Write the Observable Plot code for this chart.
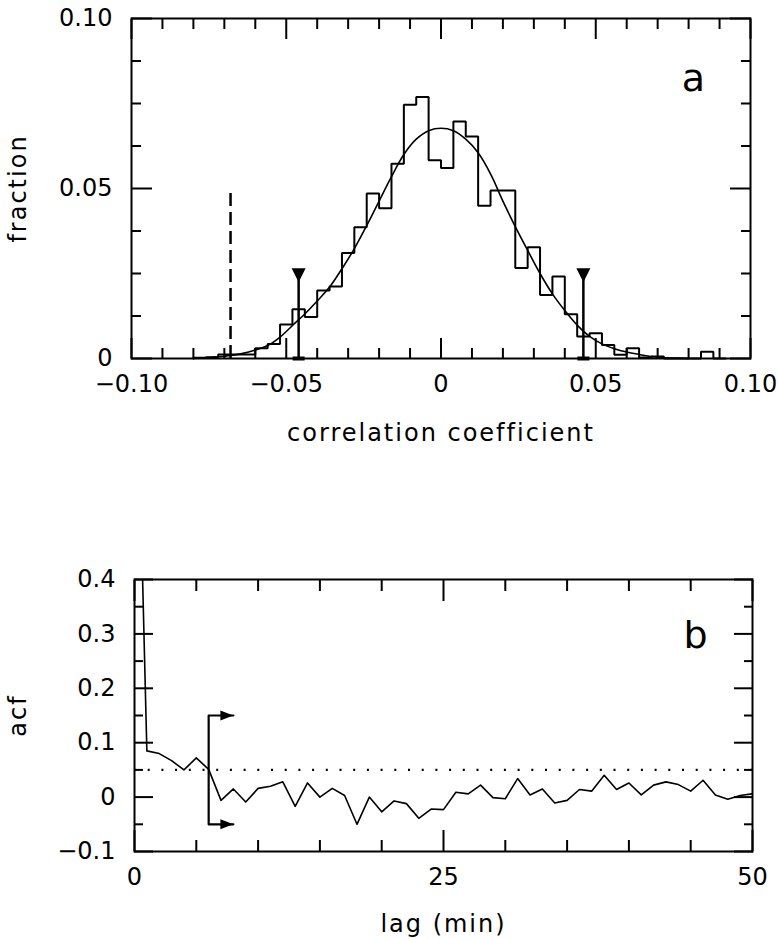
<!DOCTYPE html>
<html><head><meta charset="utf-8">
<script src="https://cdn.jsdelivr.net/npm/d3@7"></script>
<script src="https://cdn.jsdelivr.net/npm/@observablehq/plot@0.6"></script>
<style>
html,body{margin:0;padding:0;background:#fff;}
#chart{position:relative;width:778px;height:939px;background:#fff;}
#chart svg{position:absolute;left:0;overflow:visible;}
#chart g[aria-label="x-axis label"] text,#chart g[aria-label="y-axis label"] text{letter-spacing:2px;}
</style></head><body><div id="chart"></div>
<script>
// ---------- Panel a: histogram of correlation coefficients ----------
const binEdges = [-0.080,-0.076,-0.072,-0.068,-0.064,-0.060,-0.056,-0.052,-0.048,-0.044,-0.040,-0.036,-0.032,-0.028,-0.024,-0.020,-0.016,-0.012,-0.008,-0.004,0.000,0.004,0.008,0.012,0.016,0.020,0.024,0.028,0.032,0.036,0.040,0.044,0.048,0.052,0.056,0.060,0.064,0.068,0.072,0.076,0.080,0.084,0.088,0.092];
const fraction = [0.0002,0.0004,0.0012,0.0012,0.0012,0.0030,0.0043,0.0100,0.0145,0.0122,0.0200,0.0212,0.0310,0.0386,0.0485,0.0442,0.0573,0.0746,0.0769,0.0583,0.0560,0.0697,0.0653,0.0449,0.0494,0.0494,0.0266,0.0327,0.0187,0.0241,0.0130,0.0065,0.0074,0.0040,0.0011,0.0030,0.0003,0.0006,0,0,0,0.0020,0];
const fitX = [-0.080,-0.076,-0.072,-0.068,-0.064,-0.060,-0.056,-0.052,-0.048,-0.044,-0.040,-0.036,-0.032,-0.028,-0.024,-0.020,-0.016,-0.012,-0.008,-0.004,0.000,0.004,0.008,0.012,0.016,0.020,0.024,0.028,0.032,0.036,0.040,0.044,0.048,0.052,0.056,0.060,0.064,0.068,0.072,0.076,0.080];
const fitY = [0.0000,0.0002,0.0005,0.0009,0.0015,0.0025,0.0038,0.0063,0.0097,0.0131,0.0169,0.0210,0.0264,0.0323,0.0391,0.0463,0.0535,0.0600,0.0645,0.0670,0.0677,0.0670,0.0645,0.0605,0.0543,0.0463,0.0388,0.0318,0.0250,0.0190,0.0141,0.0098,0.0065,0.0043,0.0029,0.0019,0.0012,0.0006,0.0002,0.0001,0.0000];
const limitX = [-0.046, 0.046];
const limitTop = 0.0245;
const observedX = [-0.068];
const observedTop = 0.05;

const xMajorA = [-0.1,-0.05,0,0.05,0.1];
const xLabelsA = ["−0.10","−0.05","0","0.05","0.10"];
const xMinorA = [-0.09,-0.08,-0.07,-0.06,-0.04,-0.03,-0.02,-0.01,0.01,0.02,0.03,0.04,0.06,0.07,0.08,0.09];
const yMajorA = [0,0.05,0.1];
const yLabelsA = ["0","0.05","0.10"];
const yMinorA = [0.0125,0.025,0.0375,0.0625,0.075,0.0875];

// ---------- Panel b: autocorrelation function ----------
const lag = [0,1,2,3,4,5,6,7,8,9,10,11,12,13,14,15,16,17,18,19,20,21,22,23,24,25,26,27,28,29,30,31,32,33,34,35,36,37,38,39,40,41,42,43,44,45,46,47,48,49,50];
const acf = [1.0,0.085,0.080,0.067,0.050,0.072,0.051,-0.006,0.015,-0.009,0.016,0.020,0.028,-0.017,0.026,0.000,0.016,0.003,-0.050,0.000,-0.027,-0.007,-0.012,-0.039,-0.022,-0.023,0.009,0.006,0.022,-0.001,-0.003,0.034,0.004,0.015,-0.011,-0.006,0.014,0.011,0.040,0.014,0.026,0.004,0.022,0.028,0.023,0.011,0.031,0.004,-0.004,0.003,0.006];
const signifLevel = 0.05;
const bracketLag = 6, bracketArrowLag = 8, bracketTop = 0.15, bracketBottom = -0.05;

const xMajorB = [0,25,50];
const xLabelsB = ["0","25","50"];
const xMinorB = [5,10,15,20,30,35,40,45];
const yMajorB = [-0.1,0,0.1,0.2,0.3,0.4];
const yLabelsB = ["−0.1","0","0.1","0.2","0.3","0.4"];
const yMinorB = [-0.05,0.05,0.15,0.25,0.35];

// ---------- helpers ----------
const FONT = "DejaVu Sans";
const TICKFONT = 24;
const lookup = (ticks, labels) => d => labels[ticks.indexOf(d)];
function inwardTicks(axis, anchor, ticks, size) {
  return axis({anchor, ticks, tickSize: -size, fill: "none", strokeWidth: 2, label: null});
}
function frameTicks(xMaj, xMin, yMaj, yMin, xs, ys) {
  return [
    inwardTicks(Plot.axisX, "bottom", xMaj, xs[0]), inwardTicks(Plot.axisX, "bottom", xMin, xs[1]),
    inwardTicks(Plot.axisX, "top", xMaj, xs[0]), inwardTicks(Plot.axisX, "top", xMin, xs[1]),
    inwardTicks(Plot.axisY, "left", yMaj, ys[0]), inwardTicks(Plot.axisY, "left", yMin, ys[1]),
    inwardTicks(Plot.axisY, "right", yMaj, ys[0]), inwardTicks(Plot.axisY, "right", yMin, ys[1])
  ];
}
const triDown = {draw(c) { c.moveTo(-7,-7); c.lineTo(7,-7); c.lineTo(0,7); c.closePath(); }};
const baseBar = {draw(c) { c.moveTo(-6,-2); c.lineTo(6,-2); c.lineTo(6,2); c.lineTo(-6,2); c.closePath(); }};
const arrowHead = {draw(c) { c.moveTo(0,0); c.lineTo(-13,-5); c.lineTo(-13,5); c.closePath(); }};

// histogram outline points
const histPts = [{x: binEdges[0], y: 0}];
fraction.forEach((f, i) => histPts.push({x: binEdges[i], y: f}));
histPts.push({x: binEdges[binEdges.length - 1], y: 0});
const fitPts = fitX.map((x, i) => ({x, y: fitY[i]}));

const plotA = Plot.plot({
  width: 778, height: 460,
  marginTop: 18, marginBottom: 102, marginLeft: 131, marginRight: 28,
  x: {domain: [-0.1, 0.1]},
  y: {domain: [0, 0.1]},
  style: {fontFamily: FONT, background: "white", color: "black", overflow: "visible"},
  marks: [
    Plot.axisX({anchor: "bottom", ticks: xMajorA, tickFormat: lookup(xMajorA, xLabelsA), tickSize: 0, tickPadding: 16, fontSize: TICKFONT,
      label: "correlation coefficient", labelAnchor: "center", labelOffset: 82, labelArrow: "none"}),
    Plot.axisY({anchor: "left", ticks: yMajorA, tickFormat: lookup(yMajorA, yLabelsA), tickSize: 0, tickPadding: 19, fontSize: TICKFONT,
      label: "fraction", labelAnchor: "center", labelOffset: 123, labelArrow: "none"}),
    ...frameTicks(xMajorA, xMinorA, yMajorA, yMinorA, [20, 10], [21, 10]),
    Plot.frame({strokeWidth: 2}),
    Plot.line(histPts, {x: "x", y: "y", curve: "step-after", strokeWidth: 2, strokeLinejoin: "miter"}),
    Plot.line(fitPts, {x: "x", y: "y", curve: "catmull-rom", strokeWidth: 1.6}),
    Plot.ruleX(observedX, {x: d => d, y1: 0, y2: observedTop, strokeWidth: 2.5, strokeDasharray: "13,6"}),
    Plot.ruleX(limitX, {x: d => d, y1: 0, y2: limitTop, strokeWidth: 2.5}),
    Plot.dot(limitX, {x: d => d, y: limitTop, symbol: triDown, r: 5, fill: "black", stroke: "none"}),
    Plot.dot(limitX, {x: d => d, y: 0, symbol: baseBar, r: 5, fill: "black", stroke: "none"}),
    Plot.text(["a"], {frameAnchor: "top-right", dx: -57, dy: 60, fontSize: 38, textAnchor: "middle", lineAnchor: "middle", fontFamily: FONT})
  ]
});

const acfPts = lag.map((x, i) => ({x, y: acf[i]}));
const bracketPts = [
  {x: bracketArrowLag, y: bracketTop}, {x: bracketLag, y: bracketTop},
  {x: bracketLag, y: bracketBottom}, {x: bracketArrowLag, y: bracketBottom}
];

const plotB = Plot.plot({
  width: 778, height: 479,
  marginTop: 119, marginBottom: 88, marginLeft: 134, marginRight: 26,
  x: {domain: [0, 50]},
  y: {domain: [-0.1, 0.4]},
  style: {fontFamily: FONT, background: "white", color: "black", overflow: "visible"},
  marks: [
    Plot.axisX({anchor: "bottom", ticks: xMajorB, tickFormat: lookup(xMajorB, xLabelsB), tickSize: 0, tickPadding: 16, fontSize: TICKFONT,
      label: "lag (min)", labelAnchor: "center", labelOffset: 80, labelArrow: "none"}),
    Plot.axisY({anchor: "left", ticks: yMajorB, tickFormat: lookup(yMajorB, yLabelsB), tickSize: 0, tickPadding: 19, fontSize: TICKFONT,
      label: "acf", labelAnchor: "center", labelOffset: 126, labelArrow: "none"}),
    ...frameTicks(xMajorB, xMinorB, yMajorB, yMinorB, [21, 11], [19, 9]),
    Plot.frame({strokeWidth: 2}),
    Plot.ruleY([signifLevel], {strokeWidth: 2.2, strokeDasharray: "2,11.7"}),
    Plot.line(acfPts, {x: "x", y: "y", strokeWidth: 1.6, clip: true}),
    Plot.line(bracketPts, {x: "x", y: "y", strokeWidth: 2.2}),
    Plot.dot([bracketTop, bracketBottom], {x: bracketArrowLag, y: d => d, symbol: arrowHead, r: 5, fill: "black", stroke: "none"}),
    Plot.text(["b"], {frameAnchor: "top-right", dx: -57, dy: 56, fontSize: 38, textAnchor: "middle", lineAnchor: "middle", fontFamily: FONT})
  ]
});
plotB.style.top = "460px";
plotA.style.top = "0px";
const root = document.getElementById("chart");
root.appendChild(plotA);
root.appendChild(plotB);
</script>
</body></html>
